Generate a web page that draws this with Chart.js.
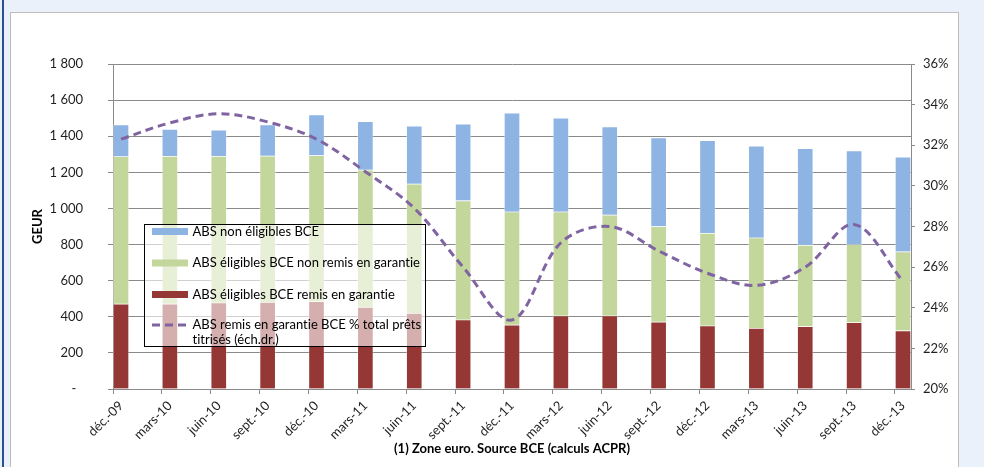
<!DOCTYPE html>
<html lang="fr">
<head>
<meta charset="utf-8">
<title>ABS zone euro</title>
<script src="https://cdn.jsdelivr.net/npm/chart.js@4/dist/chart.umd.min.js"></script>
<style>
  html, body { margin: 0; padding: 0; width: 984px; height: 467px; overflow: hidden; background: #EBF1FA; }
  #stripe { position: absolute; left: 2px; top: 0; width: 2px; height: 467px; background: #2C5191; }
  #panel { position: absolute; left: 10px; top: 12px; width: 947px; height: 470px; background: #fff; border: 1px solid #BDBDBD; }
  #chart { position: absolute; left: 0; top: 0; }
</style>
</head>
<body>
<div id="stripe"></div>
<div id="panel"></div>
<canvas id="chart" width="984" height="467"></canvas>
<script>
// Quarterly dates (x categories)
const categories = ['déc.-09', 'mars-10', 'juin-10', 'sept.-10', 'déc.-10', 'mars-11', 'juin-11',
  'sept.-11', 'déc.-11', 'mars-12', 'juin-12', 'sept.-12', 'déc.-12', 'mars-13', 'juin-13', 'sept.-13', 'déc.-13'];

// Stacked amounts, GEUR
const absRemis = [472, 472, 478, 482, 485, 454, 421, 384, 356, 406, 406, 372, 351, 338, 347, 369, 324];
const absEligiblesNonRemis = [816, 818, 812, 810, 809, 760, 716, 660, 626, 576, 559, 529, 513, 500, 450, 432, 437];
const absNonEligibles = [176, 150, 146, 172, 226, 268, 321, 425, 548, 520, 488, 491, 513, 509, 536, 519, 525];

// Share of securitised loans pledged with the ECB, % (right axis)
const partRemisPct = [32.3, 33.1, 33.55, 33.15, 32.3, 30.7, 28.9, 26.0, 23.4, 27.2, 28.0, 26.8, 25.7, 25.1, 26.0, 28.1, 25.3];

// Axis tick values
const leftTicks = [0, 200, 400, 600, 800, 1000, 1200, 1400, 1600, 1800];
const rightTicks = [20, 22, 24, 26, 28, 30, 32, 34, 36];

const FONT = 'Lato';
const FS = 13;
const TEXT = '#1f1f1f';
const GRID = '#8A8A8A';
const BAR_PX = 16;          // bar thickness in pixels
const HALF = 0.164;         // half a bar, in category units

const toPoints = arr => arr.map((v, i) => ({ x: i, y: v }));

const fmtThousands = v => v === 0 ? '-  ' : String(v).replace(/\B(?=(\d{3})+(?!\d))/g, ' ');

// Plain glyphs everywhere on the canvas (no "ti" ligatures)
const plainText = {
  id: 'plainText',
  beforeDraw(chart) { chart.ctx.textRendering = 'optimizeSpeed'; }
};

// Legend box drawn over the plot area, with a translucent white background
const insideLegend = {
  id: 'insideLegend',
  afterDraw(chart) {
    const ctx = chart.ctx;
    const ds = chart.data.datasets;
    const order = [2, 1, 0, 3];
    const box = { x: 144.5, y: 224.5, w: 281, h: 122 };
    ctx.save();
    ctx.textRendering = 'optimizeSpeed';
    ctx.fillStyle = 'rgba(255,255,255,0.6)';
    ctx.fillRect(box.x, box.y, box.w, box.h);
    ctx.strokeStyle = '#000';
    ctx.lineWidth = 1;
    ctx.strokeRect(box.x, box.y, box.w, box.h);

    ctx.font = FS + 'px ' + FONT;
    ctx.fillStyle = '#000';
    ctx.textBaseline = 'middle';
    ctx.textAlign = 'left';
    const rows = [231.5, 263, 294.5, 325];
    const swX = 152, swW = 36, txtX = 192.5;
    order.forEach((di, r) => {
      const d = ds[di];
      const cy = rows[r];
      if (d.type === 'line') {
        ctx.strokeStyle = d.borderColor;
        ctx.lineWidth = d.borderWidth;
        ctx.setLineDash(d.borderDash);
        ctx.beginPath();
        ctx.moveTo(swX, cy);
        ctx.lineTo(swX + swW, cy);
        ctx.stroke();
        ctx.setLineDash([]);
      } else {
        ctx.fillStyle = d.backgroundColor;
        ctx.fillRect(swX, cy - 3.5, swW, 7);
      }
      ctx.fillStyle = '#000';
      // word-wrap long entries
      const words = d.label.split(' ');
      const lines = [];
      let cur = '';
      words.forEach(w => {
        const t = cur ? cur + ' ' + w : w;
        if (ctx.measureText(t).width > 230 && cur) { lines.push(cur); cur = w; } else { cur = t; }
      });
      lines.push(cur);
      lines.forEach((ln, k) => ctx.fillText(ln, txtX, cy + k * 15));
    });
    ctx.restore();
  }
};

new Chart(document.getElementById('chart'), {
  data: {
    labels: categories,
    datasets: [
      {
        type: 'bar', label: 'ABS éligibles BCE remis en garantie',
        data: toPoints(absRemis), backgroundColor: '#953735',
        borderColor: 'rgba(255,255,255,0.35)', borderWidth: 1,
        barThickness: BAR_PX, yAxisID: 'y', order: 2
      },
      {
        type: 'bar', label: 'ABS éligibles BCE non remis en garantie',
        data: toPoints(absEligiblesNonRemis), backgroundColor: '#C3D69B',
        borderColor: 'rgba(255,255,255,0.35)', borderWidth: 1,
        barThickness: BAR_PX, yAxisID: 'y', order: 2
      },
      {
        type: 'bar', label: 'ABS non éligibles BCE',
        data: toPoints(absNonEligibles), backgroundColor: '#8EB4E3',
        borderColor: 'rgba(255,255,255,0.35)', borderWidth: 1,
        barThickness: BAR_PX, yAxisID: 'y', order: 2
      },
      {
        type: 'line', label: 'ABS remis en garantie BCE % total prêts titrisés (éch.dr.)',
        data: toPoints(partRemisPct), borderColor: '#8064A2', borderWidth: 3,
        borderDash: [8, 5], borderCapStyle: 'butt', tension: 0.35,
        pointRadius: 0, fill: false, yAxisID: 'y1', order: 1
      }
    ]
  },
  options: {
    responsive: false,
    animation: false,
    layout: { padding: { top: 64, left: 0, right: 0, bottom: 0 } },
    plugins: { legend: { display: false }, tooltip: { enabled: false } },
    scales: {
      x: {
        type: 'linear', stacked: true, offset: false,
        min: -HALF, max: categories.length - 1 + HALF,
        afterBuildTicks: s => { s.ticks = categories.map((_, i) => ({ value: i - HALF })); },
        afterFit: s => { s.height = 78; },
        ticks: {
          autoSkip: false, maxRotation: 45, minRotation: 45, labelOffset: BAR_PX / 2, padding: 4,
          color: TEXT, font: { family: FONT, size: FS },
          callback: (v, i) => categories[i]
        },
        grid: { drawOnChartArea: false, offset: false, tickLength: 5, color: GRID },
        border: { display: true, color: GRID },
        title: {
          display: true, text: '(1) Zone euro. Source BCE (calculs ACPR)',
          color: '#000', font: { family: FONT, size: FS, weight: 'bold' },
          padding: { top: 0, bottom: 10 }
        }
      },
      y: {
        position: 'left', stacked: true, min: 0, max: 1800,
        afterBuildTicks: s => { s.ticks = leftTicks.map(v => ({ value: v })); },
        afterFit: s => { s.width = 113; },
        ticks: { padding: 25, color: TEXT, font: { family: FONT, size: FS }, callback: v => fmtThousands(v) },
        grid: { color: GRID, tickLength: 5 },
        border: { display: true, color: GRID },
        title: {
          display: true, text: 'GEUR', color: '#000',
          font: { family: FONT, size: FS, weight: 'bold' }, padding: { top: 30, bottom: 0 }
        }
      },
      y1: {
        position: 'right', min: 20, max: 36,
        afterBuildTicks: s => { s.ticks = rightTicks.map(v => ({ value: v })); },
        afterFit: s => { s.width = 73; },
        ticks: { padding: 8, color: TEXT, font: { family: FONT, size: FS }, callback: v => v + '%' },
        grid: { drawOnChartArea: false, color: GRID, tickLength: 4 },
        border: { display: true, color: GRID }
      }
    }
  },
  plugins: [plainText, insideLegend]
});
</script>
</body>
</html>
